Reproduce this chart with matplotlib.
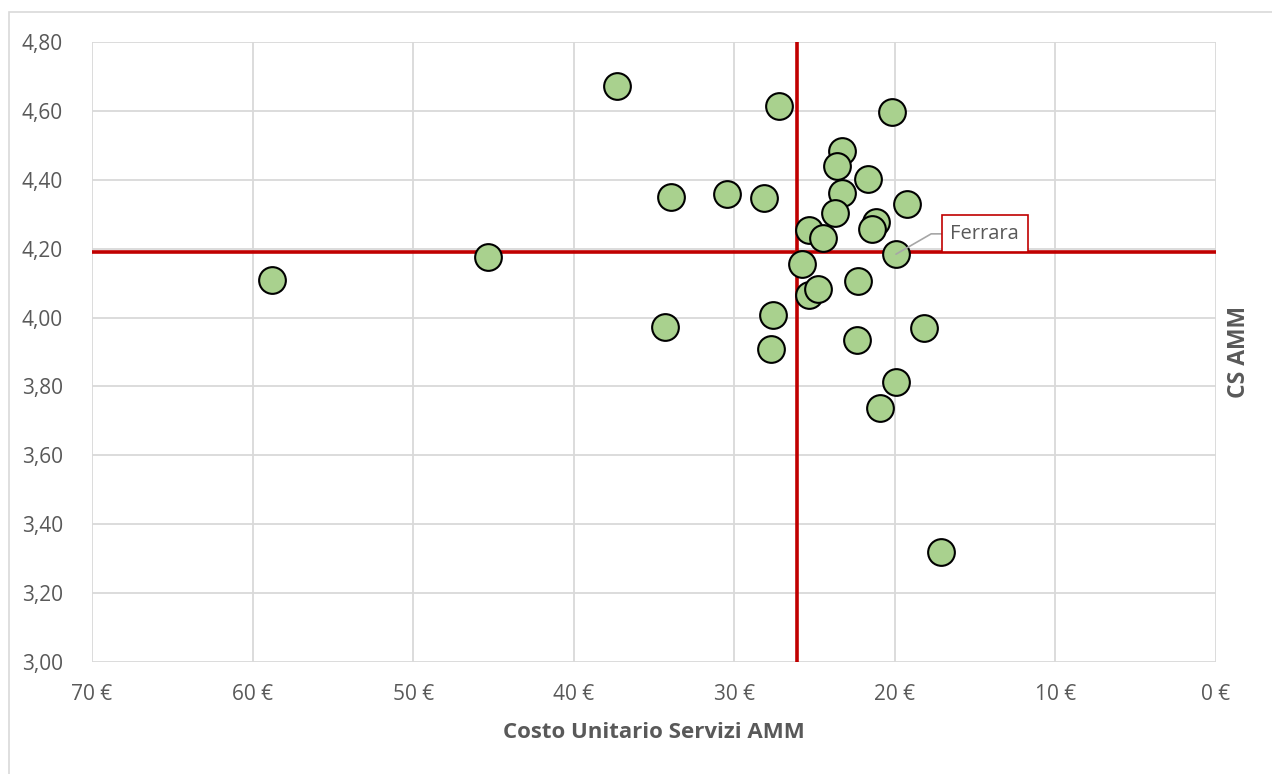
import matplotlib.pyplot as plt
from matplotlib.patches import Rectangle
from matplotlib.ticker import FuncFormatter

# Costo unitario (euro) e customer satisfaction per ciascun comune
costo = [58.79, 45.34, 37.30, 27.21, 20.18, 33.94, 30.45, 28.15,
         23.31, 23.62, 21.65, 23.31, 23.73, 19.26, 21.19, 21.44,
         25.33, 24.49, 19.93, 25.80, 22.28, 25.33, 24.80,
         27.57, 27.73, 22.36, 18.18, 19.93, 20.92, 34.31, 17.13]
cs = [4.110, 4.176, 4.672, 4.614, 4.597, 4.350, 4.359, 4.347,
      4.484, 4.441, 4.401, 4.363, 4.303, 4.329, 4.278, 4.256,
      4.254, 4.230, 4.184, 4.155, 4.106, 4.066, 4.083,
      4.007, 3.910, 3.935, 3.971, 3.812, 3.737, 3.973, 3.319]

# medie usate come linee di riferimento
media_costo = 26.1
media_cs = 4.19

ferrara = ("Ferrara", 19.93, 4.184)

x_ticks = [70, 60, 50, 40, 30, 20, 10, 0]
y_ticks = [3.0, 3.2, 3.4, 3.6, 3.8, 4.0, 4.2, 4.4, 4.6, 4.8]

plt.rcParams['font.family'] = ['Open Sans', 'DejaVu Sans']
grey = "#595959"

fig = plt.figure(figsize=(12.72, 7.74), dpi=100)
ax = fig.add_axes([92 / 1272, 1 - 662 / 774, 1124 / 1272, 620 / 774])

# cornice esterna dell'area grafico
fig.patches.append(Rectangle((9 / 1272, -0.1), 1.2, 1 - 12 / 774 + 0.1,
                             transform=fig.transFigure, fill=False,
                             edgecolor="#d9d9d9", linewidth=1.2))

ax.set_xlim(70, 0)
ax.set_ylim(3.0, 4.8)
ax.set_xticks(x_ticks)
ax.set_yticks(y_ticks)
ax.xaxis.set_major_formatter(FuncFormatter(lambda v, p: f"{v:.0f} €"))
ax.yaxis.set_major_formatter(FuncFormatter(lambda v, p: f"{v:.2f}".replace(".", ",")))
ax.grid(True, color="#d9d9d9", linewidth=1.3)
ax.set_axisbelow(True)
for s in ax.spines.values():
    s.set_visible(False)
ax.tick_params(length=0, labelsize=15, labelcolor=grey)
ax.tick_params(axis="x", pad=16)
ax.tick_params(axis="y", pad=21)

ax.axvline(media_costo, color="#c00000", linewidth=2.6, zorder=2)
ax.axhline(media_cs, color="#c00000", linewidth=2.6, zorder=2)

ax.scatter(costo, cs, s=370, color="#a9d18e", edgecolor="black",
           linewidth=1.5, zorder=3)

# etichetta con linea guida per Ferrara
nome, fx, fy = ferrara
ax.annotate(nome, xy=(fx, fy), xytext=(14.4, 4.243),
            fontsize=14.5, color=grey, ha="center", va="center",
            bbox=dict(boxstyle="square,pad=0.42", facecolor="white",
                      edgecolor="#c00000", linewidth=1.2),
            arrowprops=dict(arrowstyle="-", color="#a6a6a6", linewidth=1.2,
                            shrinkA=0, shrinkB=0,
                            connectionstyle="angle,angleA=0,angleB=30,rad=0"),
            zorder=4)

ax.set_xlabel("Costo Unitario Servizi AMM", fontsize=16, fontweight="bold",
              color=grey, labelpad=12)
ax.yaxis.set_label_position("right")
ax.set_ylabel("CS AMM", fontsize=16.5, fontweight="bold", color=grey,
              labelpad=8)

fig.savefig("out.png", dpi=100)
